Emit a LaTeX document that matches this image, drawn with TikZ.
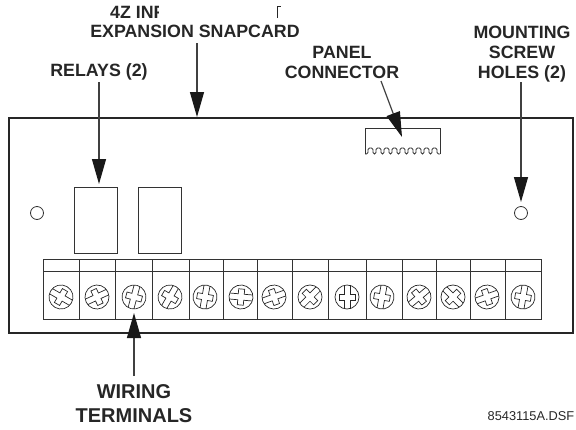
\documentclass[tikz,border=0pt]{standalone}
\usepackage{fontspec}
\setmainfont{Liberation Sans}
\usetikzlibrary{arrows.meta}
\tikzset{
  lbl/.style={font=\bfseries\fontsize{17.8}{20}\selectfont,align=center,text=black!85,inner sep=0},
  biglbl/.style={font=\bfseries\fontsize{20}{24}\selectfont,align=center,text=black!85,inner sep=0},
  board/.style={draw=black!85,line width=2pt},
  part/.style={draw=black!80,line width=0.9pt},
  callout/.style={draw=black!75,line width=1.2pt,-{Triangle[length=25pt,width=14pt,black!90]}},
  hole/.style={draw=black!80,line width=0.8pt,circle,minimum size=13pt,inner sep=0},
  screwhead/.pic={
    \draw[black!85,line width=0.7pt] (0,0) circle (12);
    \draw[black!85,line width=0.7pt]
      (-11.6,-3) -- (-3,-3) -- (-3,-8) -- (3,-8) -- (3,-3) -- (11.6,-3)
      (-11.6,3) -- (-3,3) -- (-3,8) -- (3,8) -- (3,3) -- (11.6,3);
  }
}
\begin{document}
\begin{tikzpicture}[x=1pt,y=-1pt]
  \useasboundingbox (0,0) rectangle (576,429);
  % labels
  \begin{scope}
    \clip (100,0) rectangle (158,22);
    \node[lbl,anchor=west] (inputlabel) at (110,12) {4Z INF};
  \end{scope}
  \node[lbl] (cardlabel) at (195,31) {EXPANSION SNAPCARD};
  \node[lbl] (relaylabel) at (99,72) {RELAYS (2)};
  \node[lbl,anchor=base] (panellabel) at (342,78) {PANEL\\CONNECTOR};
  \node[lbl,anchor=base] (holelabel) at (522,78) {MOUNTING\\SCREW\\HOLES (2)};
  \node[biglbl,anchor=base] (wirelabel) at (134,422) {WIRING\\TERMINALS};
  \node[font=\fontsize{12.8}{15}\selectfont,text=black!85,inner sep=0] (filelabel) at (531,416) {8543115A.DSF};
  \draw[black!85,line width=1pt] (277,18) -- (277,6.5) -- (281,6.5);
  % board
  \node[board,minimum width=564pt,minimum height=215pt,inner sep=0] (pcb) at (291,225.5) {};
  \node[part,minimum width=43pt,minimum height=66pt,inner sep=0] (relayone) at (95.5,220) {};
  \node[part,minimum width=43pt,minimum height=66pt,inner sep=0] (relaytwo) at (159.5,220) {};
  \node[hole] (holeleft) at (37,213) {};
  \node[hole] (holeright) at (521,213) {};
  % panel connector
  \draw[part] (365,154) -- (365,128) -- (440,128) -- (440,154);
  \coordinate (teethstart) at (365,154);
  \draw[part,rounded corners=1.5pt] (teethstart) foreach \tooth in {0,...,8} {
    -- ++(3,0) -- ++(0,-6) -- ++(5,0) -- ++(0,6)
  } -- ++(3,0);
  % terminal strip
  \node[part,minimum width=498pt,minimum height=60pt,inner sep=0] (strip) at (292,289) {};
  \draw[part] (43,271) -- (541,271);
  \foreach \xdiv in {79,115,152,189,223,257,292,328,366,402,436,470,505}
    \draw[part] (\xdiv,259) -- (\xdiv,319);
  \foreach \xpos/\turn in {61/-30,97/25,134/75,170/60,205/80,241/-5,274/20,310/45,347/90,382/80,419/40,453/-45,487/20,523/80}
    \pic[rotate=\turn] at (\xpos,297) {screwhead};
  % arrows
  \coordinate (cardtail) at (197,43);
  \coordinate (cardtip) at (197,117);
  \coordinate (relaytail) at (99,82);
  \coordinate (relaytip) at (99,184);
  \coordinate (paneltail) at (381,81);
  \coordinate (paneltip) at (402,137);
  \coordinate (holetail) at (521,82);
  \coordinate (holetip) at (521,202);
  \coordinate (wiretail) at (134,376);
  \coordinate (wiretip) at (134,313);
  \path[callout] (cardtail) -- (cardtip);
  \path[callout] (relaytail) -- (relaytip);
  \path[callout] (paneltail) -- (paneltip);
  \path[callout] (holetail) -- (holetip);
  \path[callout] (wiretail) -- (wiretip);
\end{tikzpicture}
\end{document}
